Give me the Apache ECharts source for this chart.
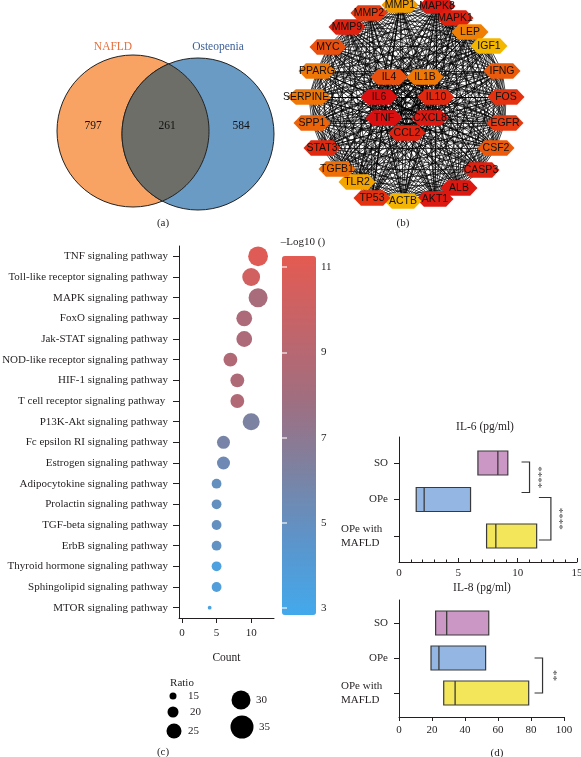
<!DOCTYPE html>
<html><head><meta charset="utf-8">
<script src="https://cdn.jsdelivr.net/npm/echarts@6/dist/echarts.min.js"></script>
<style>html,body{margin:0;padding:0;background:#fff}#c{width:581px;height:757px}</style>
</head><body><div id="c"></div>
<script>
// ================= DATA =================
// (a) Venn
const vennSets = ['NAFLD', 'Osteopenia'];
const vennCounts = [797, 261, 584]; // NAFLD only, shared, Osteopenia only

// (b) hub-gene network
const hubGenes = ['MMP1','MAPK8','MAPK1','LEP','IGF1','IFNG','FOS','EGFR','CSF2','CASP3','ALB','AKT1','ACTB','TP53','TLR2','TGFB1','STAT3','SPP1','SERPINE1','PPARG','MYC','MMP9','MMP2','IL4','IL1B','IL6','IL10','TNF','CXCL8','CCL2'];
const hubScore = [0.25,0.95,0.9,0.4,0.08,0.6,0.8,0.75,0.6,0.9,0.95,0.95,0.1,0.8,0.2,0.5,0.85,0.55,0.45,0.45,0.65,0.9,0.75,0.65,0.45,1.0,0.85,1.0,0.95,0.9];

// (c) KEGG enrichment
const pathways = ['TNF signaling pathway','Toll-like receptor signaling pathway','MAPK signaling pathway','FoxO signaling pathway','Jak-STAT signaling pathway','NOD-like receptor signaling pathway','HIF-1 signaling pathway','T cell receptor signaling pathway ','P13K-Akt signaling pathway','Fc epsilon RI signaling pathway','Estrogen signaling pathway','Adipocytokine signaling pathway','Prolactin signaling pathway','TGF-beta signaling pathway','ErbB signaling pathway','Thyroid hormone signaling pathway','Sphingolipid signaling pathway','MTOR signaling pathway'];
const pathwayCount = [11,10,11,9,9,7,8,8,10,6,6,5,5,5,5,5,5,4];
const pathwayRatio = [31,28.5,30,26,26,23.5,23.5,23.5,27.5,22.5,22.5,18.5,18.5,18.5,18.5,18.5,18.5,11];
const pathwayLogP = [11.0,10.3,8.3,8.5,8.5,8.7,8.6,8.7,6.2,6.0,5.5,5.0,5.0,5.0,4.9,3.6,3.8,3.5];
const ratioLegend = [15,20,25,30,35];
const logPTicks = [3,5,7,9,11];

// (d) cytokines
const groups = ['SO','OPe','OPe with MAFLD'];
const il6Q1 = [6.65,1.45,7.38], il6Median = [8.33,2.12,8.16], il6Q3 = [9.17,6.03,11.6];
const il8Q1 = [22.2,19.4,27.1], il8Median = [28.9,24.2,34.0], il8Q3 = [54.4,52.5,78.6];
const il6Sig = [['SO','OPe','****'],['OPe','OPe with MAFLD','****']];
const il8Sig = [['OPe','OPe with MAFLD','**']];

// ================= STYLE / LAYOUT =================
const SERIF = "'Liberation Serif','DejaVu Serif','Times New Roman',serif";
const SANS = "'Liberation Sans',Arial,'DejaVu Sans',sans-serif";
const INK = '#231F20';
const vennLayout = {c1:[133,131], c2:[198,134], r:76, labels:[[93,126],[167,126],[241,126]], names:[[113,47],[218,47]]};
const vennColors = {left:'#F8A364', right:'#6A9BC5', both:'#6C6E67', edge:'#222', names:['#E3703D','#3D5E97']};
// network node placement (layout of the drawing, in panel pixels)
const netPos = {MMP1:[400,5],MAPK8:[437,6],MAPK1:[455,18],LEP:[470,32],IGF1:[489,46],IFNG:[502,71],FOS:[506,97],EGFR:[505,123],
  CSF2:[496,148],CASP3:[481,170],ALB:[459,188],AKT1:[435,199],ACTB:[403,201],TP53:[372,198],TLR2:[357,182],TGFB1:[337,169],
  STAT3:[322,148],SPP1:[312,123],SERPINE1:[309,97],PPARG:[317,71],MYC:[328,47],MMP9:[347,27],MMP2:[369,13],
  IL4:[389,77],IL1B:[425,77],IL6:[379,97],IL10:[436,97],TNF:[384,118],CXCL8:[430,118],CCL2:[407,133]};
const netPalette = ['#F5C400','#F29C00','#EE6E08','#E63A10','#DA1010'];
const cbarColors = ['#43A9EC','#5B95CC','#7C82A2','#A06E80','#C3646A','#E45A52'];
const boxColors = ['#CB97C5','#93B6E3','#F3E65B'];
const il6SigLayout = [{x:11.0, arm:8, dy0:-1, dy1:-7, dx:8},{x:12.8, arm:12, dy0:-2, dy1:4, dx:8}];
const il8SigLayout = [{x:87, arm:8, dy0:0, dy1:0, dx:10}];
const legendPos = [[173,696],[173,712],[174,731],[241,700],[242,727]];
const legendLabelX = [188,190,188,256,259];
const ratioToSize = r => 0.8*r - 5;

// ================= BUILD =================
const chart = echarts.init(document.getElementById('c'), null, {renderer:'canvas'});

function txt(text,x,y,opt){ return {type:'text', x:x, y:y, silent:true, z:50,
  style:Object.assign({text:text, fill:INK, fontSize:11, fontFamily:SERIF, align:'center', verticalAlign:'middle', textAlign:'center', textVerticalAlign:'middle'}, opt||{})}; }

// Venn
const vennData = [[vennCounts[0],0],[vennCounts[2],2],[vennCounts[1],1]];
function vennRender(params, api){
  const region = api.value(1), count = api.value(0);
  const c1 = api.coord(vennLayout.c1), c2 = api.coord(vennLayout.c2);
  const r = api.size([vennLayout.r,0])[0];
  const lp = api.coord(vennLayout.labels[region]);
  const label = {type:'text', x:lp[0], y:lp[1], z2:10, style:{text:String(count), fill:'#111', fontSize:11.5, fontFamily:SERIF, align:'center', verticalAlign:'middle'}};
  if (region === 0 || region === 2) {
    const c = region === 0 ? c1 : c2;
    return {type:'group', children:[
      {type:'circle', shape:{cx:c[0], cy:c[1], r:r}, style:{fill: region===0?vennColors.left:vennColors.right, stroke:vennColors.edge, lineWidth:1}},
      label]};
  }
  const dx=c2[0]-c1[0], dy=c2[1]-c1[1], d=Math.hypot(dx,dy);
  const alpha = Math.acos((d/2)/r);
  const phi1 = Math.atan2(dy,dx), phi2 = phi1 + Math.PI;
  const pts = [];
  const N = 60;
  for (let k=0;k<=N;k++){ const t=phi2-alpha+2*alpha*k/N; pts.push([c2[0]+r*Math.cos(t), c2[1]+r*Math.sin(t)]); }
  for (let k=0;k<=N;k++){ const t=phi1-alpha+2*alpha*k/N; pts.push([c1[0]+r*Math.cos(t), c1[1]+r*Math.sin(t)]); }
  return {type:'group', children:[
    {type:'polygon', shape:{points:pts}, style:{fill:vennColors.both, stroke:vennColors.edge, lineWidth:1}},
    label]};
}

// Network
const HEX = 'path://M0 5 L4 0 L16 0 L20 5 L16 10 L4 10 Z';
const links = [];
for (let i=0;i<hubGenes.length;i++) for (let j=i+1;j<hubGenes.length;j++) links.push({source:i, target:j});
const graphData = hubGenes.map((n,i)=>({name:n, value:netPos[n], symbolSize:[Math.max(37, n.length*5.5), 15.5], itemStyle:{color:echarts.color.lerp(hubScore[i], netPalette)}}));

// Box + brackets
function boxRender(params, api){
  const q1=api.value(0), med=api.value(1), q3=api.value(2), idx=api.value(3);
  const p1=api.coord([q1,idx]), p2=api.coord([q3,idx]), pm=api.coord([med,idx]);
  const h=24;
  return {type:'group', children:[
    {type:'rect', shape:{x:p1[0], y:p1[1]-h/2, width:p2[0]-p1[0], height:h}, style:{fill:boxColors[idx], stroke:'#3a3a3a', lineWidth:1.2}},
    {type:'line', shape:{x1:pm[0], y1:pm[1]-h/2, x2:pm[0], y2:pm[1]+h/2}, style:{stroke:'#3a3a3a', lineWidth:1.3}}
  ]};
}
function bracketRender(sigs, lay){
  return function(params, api){
    const L = lay[params.dataIndex];
    const top = api.coord([api.value(0), api.value(1)]), bot = api.coord([api.value(0), api.value(2)]);
    const x = top[0], y0 = top[1]+L.dy0, y1 = bot[1]+L.dy1;
    return {type:'group', children:[
      {type:'polyline', shape:{points:[[x-L.arm,y0],[x,y0],[x,y1],[x-L.arm,y1]]}, style:{stroke:'#333', lineWidth:1.2, fill:null}},
      {type:'text', x:x+L.dx, y:(y0+y1)/2, rotation:-Math.PI/2, style:{text:sigs[params.dataIndex][2], fill:'#555', fontSize:11, fontFamily:SERIF, align:'center', verticalAlign:'middle'}}
    ]};
  };
}
const il6BoxData = groups.map((g,i)=>[il6Q1[i], il6Median[i], il6Q3[i], i]);
const il8BoxData = groups.map((g,i)=>[il8Q1[i], il8Median[i], il8Q3[i], i]);
const il6SigData = il6Sig.map((s,k)=>[il6SigLayout[k].x, groups.indexOf(s[0]), groups.indexOf(s[1])]);
const il8SigData = il8Sig.map((s,k)=>[il8SigLayout[k].x, groups.indexOf(s[0]), groups.indexOf(s[1])]);
function groupFmt(v){ const g = groups[Math.round(v)]; if (!g) return ''; if (g.indexOf(' with ')>0){ const p=g.split(' with '); return '{a|'+p[0]+' with}\n{a|'+p[1]+'}'; } return g; }
const groupRich = {a:{width:47, align:'left', fontFamily:SERIF, fontSize:11, color:INK, lineHeight:14}};

const hidden = (gi,min,max,inv)=>({gridIndex:gi, type:'value', min:min, max:max, inverse:!!inv, show:false});
const axLine = {show:true, onZero:false, lineStyle:{color:INK, width:1}};
const lbl = (o)=>Object.assign({color:INK, fontSize:11, fontFamily:SERIF}, o||{});

const option = {
  animation:false,
  backgroundColor:'#fff',
  grid:[
    {left:0, top:0, width:290, height:230, outerBoundsMode:'none'},
    {left:290, top:0, width:291, height:230, outerBoundsMode:'none'},
    {left:179, top:246, width:95, height:372, outerBoundsMode:'none'},
    {left:282, top:256, width:34, height:359, outerBoundsMode:'none'},
    {left:399, top:437, width:178, height:125, outerBoundsMode:'none'},
    {left:399, top:600, width:165, height:117, outerBoundsMode:'none'}
  ],
  xAxis:[
    hidden(0,0,290),
    hidden(1,290,581),
    {gridIndex:2, type:'value', min:-0.43, max:13.3, axisLine:axLine, splitLine:{show:false},
     axisTick:{show:true, length:5, customValues:[0,5,10], lineStyle:{color:INK}},
     axisLabel:lbl({margin:10, customValues:[0,5,10]}),
     name:'Count', nameLocation:'middle', nameGap:34, nameTextStyle:lbl({fontSize:11.5})},
    hidden(3,0,1),
    {gridIndex:4, type:'value', min:0, max:15, interval:5, axisLine:axLine, splitLine:{show:false},
     axisTick:{show:true, inside:true, length:4, lineStyle:{color:INK}}, axisLabel:lbl({margin:6})},
    {gridIndex:4, type:'value', min:0, max:15, interval:1, position:'bottom', axisLine:{show:false, onZero:false}, splitLine:{show:false},
     axisTick:{show:true, inside:true, length:2.5, lineStyle:{color:INK}}, axisLabel:{show:false}},
    {gridIndex:5, type:'value', min:0, max:100, interval:20, axisLine:axLine, splitLine:{show:false},
     axisTick:{show:true, length:4, lineStyle:{color:INK}}, axisLabel:lbl({margin:8})}
  ],
  yAxis:[
    hidden(0,0,230,true),
    hidden(1,0,230,true),
    {gridIndex:2, type:'category', data:pathways, inverse:true, axisLine:axLine, splitLine:{show:false},
     axisTick:{show:true, length:6, alignWithLabel:true, lineStyle:{color:INK}}, axisLabel:lbl({margin:11})},
    {gridIndex:3, type:'value', min:2.84, max:11.26, position:'right', z:10, axisLine:{show:false}, splitLine:{show:false},
     axisTick:{show:true, inside:true, length:5, customValues:logPTicks, lineStyle:{color:'rgba(255,255,255,0.75)', width:1.5}},
     axisLabel:lbl({margin:5, customValues:logPTicks})},
    {gridIndex:3, type:'value', min:2.84, max:11.26, position:'left', z:10, axisLine:{show:false}, splitLine:{show:false},
     axisTick:{show:true, inside:true, length:5, customValues:logPTicks, lineStyle:{color:'rgba(255,255,255,0.75)', width:1.5}},
     axisLabel:{show:false}},
    {gridIndex:4, type:'value', min:-0.712, max:2.712, inverse:true, axisLine:axLine, splitLine:{show:false},
     axisTick:{show:true, length:5, customValues:[0,1,2], lineStyle:{color:INK}},
     axisLabel:lbl({margin:11, customValues:[0,1,2], formatter:groupFmt, rich:groupRich})},
    {gridIndex:5, type:'value', min:-0.657, max:2.686, inverse:true, axisLine:axLine, splitLine:{show:false},
     axisTick:{show:true, length:5, customValues:[0,1,2], lineStyle:{color:INK}},
     axisLabel:lbl({margin:11, customValues:[0,1,2], formatter:groupFmt, rich:groupRich})}
  ],
  visualMap:[{type:'continuous', seriesIndex:2, dimension:2, min:2.84, max:11.26, calculable:false, hoverLink:false,
    left:282, top:256, itemWidth:34, itemHeight:359, padding:0, text:null, orient:'vertical',
    inRange:{color:cbarColors}}],
  series:[
    {type:'custom', xAxisIndex:0, yAxisIndex:0, data:vennData, renderItem:vennRender, silent:true, clip:false},
    {type:'graph', coordinateSystem:'cartesian2d', xAxisIndex:1, yAxisIndex:1, layout:'none', data:graphData, links:links,
     symbol:HEX, silent:true, z:3,
     label:{show:true, position:'inside', formatter:'{b}', fontSize:10.5, fontFamily:SANS, color:'#111'},
     lineStyle:{color:'#000', width:0.7, opacity:1, curveness:0}},
    {type:'scatter', xAxisIndex:2, yAxisIndex:2, data:pathways.map((p,i)=>[pathwayCount[i], i, pathwayLogP[i], pathwayRatio[i]]),
     encode:{x:0, y:1}, symbolSize:v=>ratioToSize(v[3]), itemStyle:{opacity:1}, silent:true},
    {type:'custom', xAxisIndex:4, yAxisIndex:5, data:il6BoxData, renderItem:boxRender, silent:true, clip:false},
    {type:'custom', xAxisIndex:4, yAxisIndex:5, data:il6SigData, renderItem:bracketRender(il6Sig, il6SigLayout), silent:true, clip:false},
    {type:'custom', xAxisIndex:6, yAxisIndex:6, data:il8BoxData, renderItem:boxRender, silent:true, clip:false},
    {type:'custom', xAxisIndex:6, yAxisIndex:6, data:il8SigData, renderItem:bracketRender(il8Sig, il8SigLayout), silent:true, clip:false}
  ],
  graphic:[
    txt(vennSets[0], vennLayout.names[0][0], vennLayout.names[0][1], {fill:vennColors.names[0], fontSize:11.5}),
    txt(vennSets[1], vennLayout.names[1][0], vennLayout.names[1][1], {fill:vennColors.names[1], fontSize:11.5}),
    txt('(a)',163,223), txt('(b)',403,223), txt('(c)',163,752), txt('(d)',497,753),
    txt('–Log10 ()',303,242),
    txt('IL-6 (pg/ml)',485,427,{fontSize:11.5}), txt('IL-8 (pg/ml)',482,588,{fontSize:11.5}),
    txt('Ratio',182,683),
  ].concat(ratioLegend.map((r,i)=>({type:'circle', silent:true, z:50, shape:{cx:legendPos[i][0], cy:legendPos[i][1], r:ratioToSize(r)/2}, style:{fill:'#000'}})))
   .concat(ratioLegend.map((r,i)=>txt(String(r), legendLabelX[i], legendPos[i][1], {align:'left', textAlign:'left'})))
};
chart.setOption(option);
</script></body></html>
